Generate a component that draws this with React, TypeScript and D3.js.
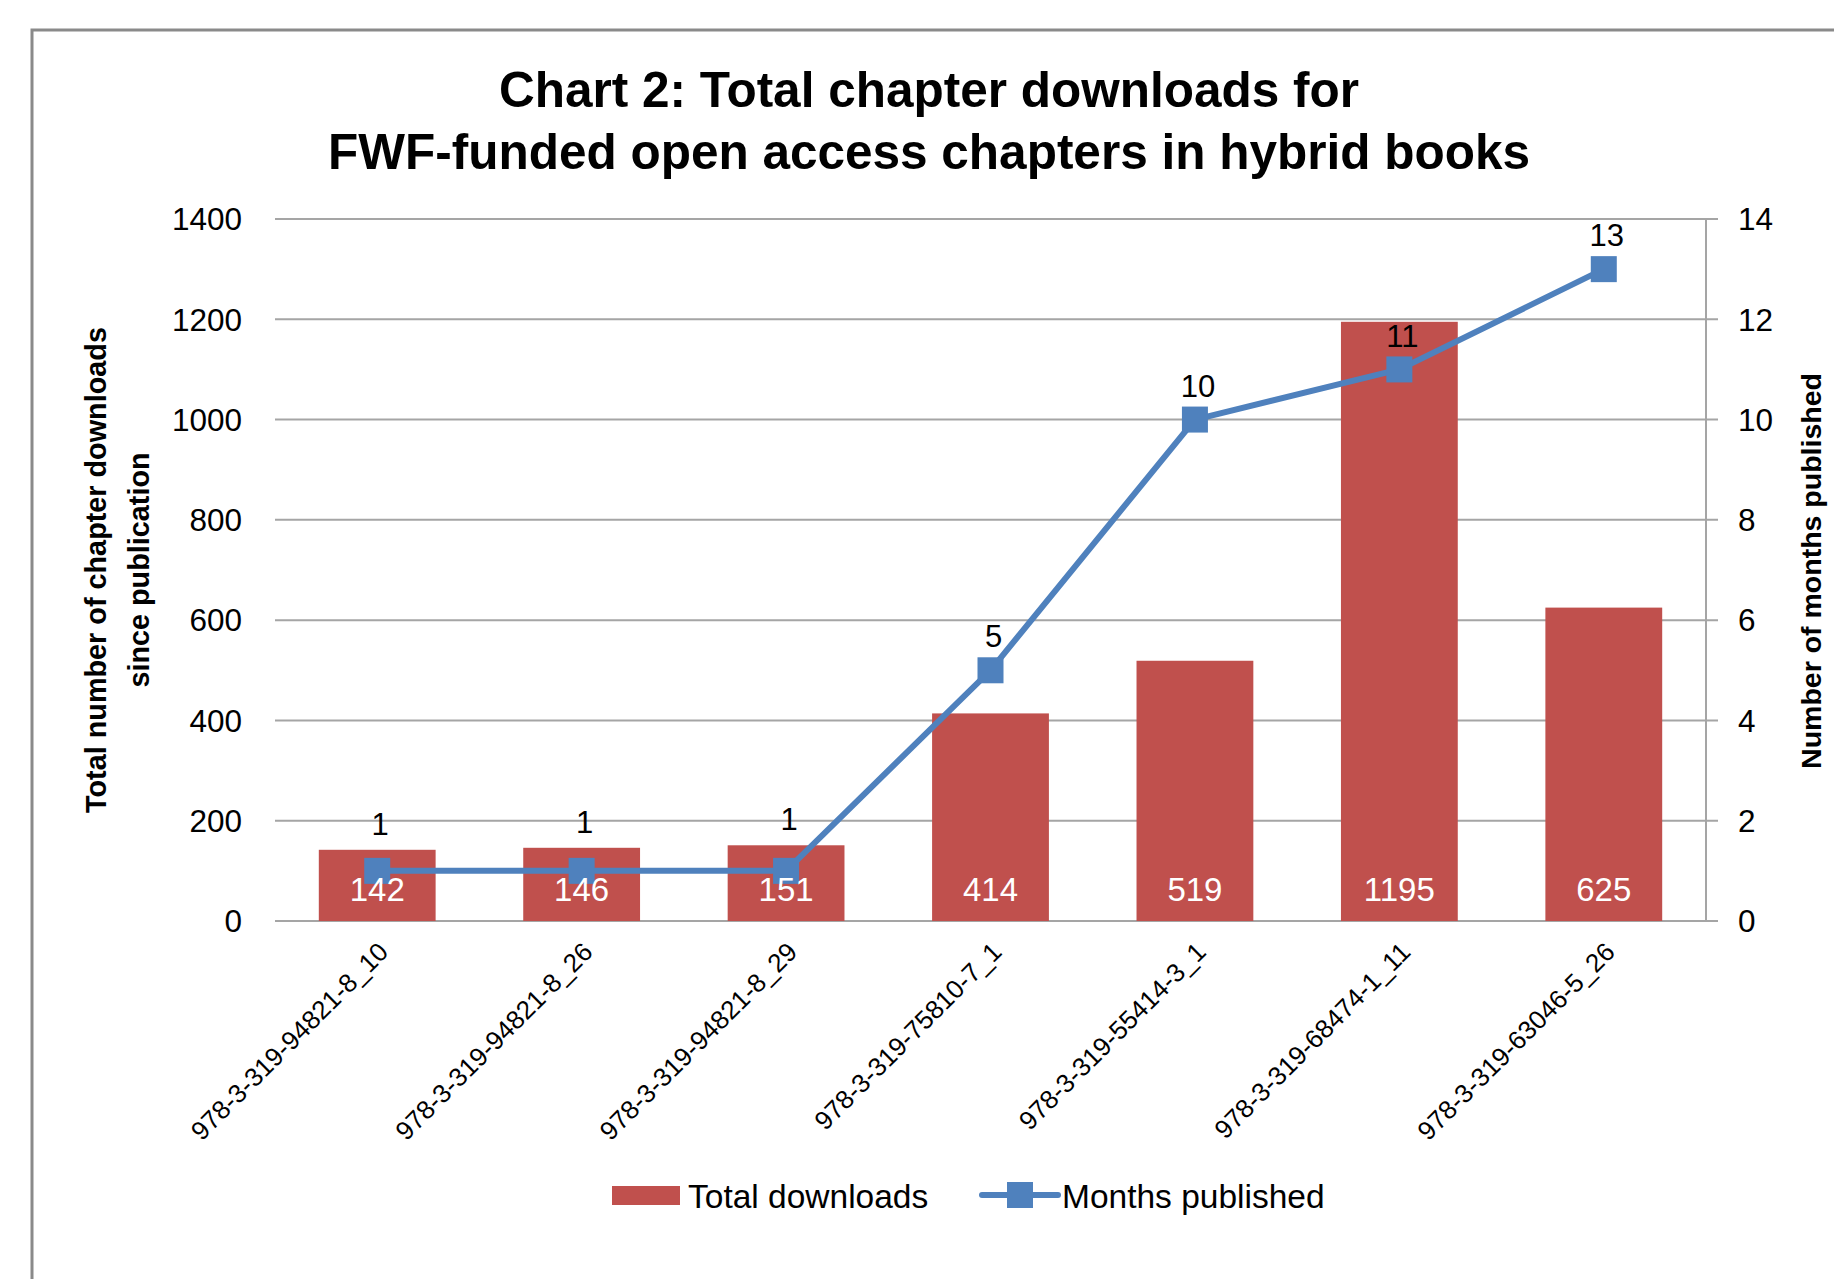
import React from 'react';
import * as d3 from 'd3';

// chart values
const categories = [
  '978-3-319-94821-8_10',
  '978-3-319-94821-8_26',
  '978-3-319-94821-8_29',
  '978-3-319-75810-7_1',
  '978-3-319-55414-3_1',
  '978-3-319-68474-1_11',
  '978-3-319-63046-5_26',
];
const totalDownloads = [142, 146, 151, 414, 519, 1195, 625];
const monthsPublished = [1, 1, 1, 5, 10, 11, 13];
const leftTicks = [0, 200, 400, 600, 800, 1000, 1200, 1400];
const rightTicks = [0, 2, 4, 6, 8, 10, 12, 14];

const W = 1834;
const H = 1279;
const plot = { left: 275, right: 1706, top: 219, bottom: 921 };

const barColor = '#C0504D';
const lineColor = '#4F81BD';
const gridColor = '#A5A5A5';
const font = '"Liberation Sans", Arial, sans-serif';

const App = () => {
  const x = d3.scaleBand<string>()
    .domain(categories)
    .range([plot.left, plot.right]);
  const yLeft = d3.scaleLinear().domain([0, 1400]).range([plot.bottom, plot.top]);
  const yRight = d3.scaleLinear().domain([0, 14]).range([plot.bottom, plot.top]);

  const barW = x.bandwidth() / 1.75;
  const cx = (c: string) => (x(c) as number) + x.bandwidth() / 2;

  const line = d3.line<number>()
    .x((_, i) => cx(categories[i]))
    .y(d => yRight(d));

  const marker = 26;

  // label above the marker; if the bar top sits just over the marker, lift it above the bar
  const labelY = (i: number) => {
    const py = yRight(monthsPublished[i]);
    const top = yLeft(totalDownloads[i]);
    if (top < py && py - top < 30) return top - 26;
    return py - 34;
  };

  return (
    <svg width={W} height={H} style={{ display: 'block', position: 'absolute', left: 0, top: 0 }}
      fontFamily={font}>
      <rect x={0} y={0} width={W} height={H} fill="#fff" />
      {/* frame of the original chart, cropped at right and bottom */}
      <rect x={32} y={30} width={W + 100} height={H + 100} fill="none" stroke="#8a8a8a" strokeWidth={3} />

      {/* title */}
      <text x={929} y={107} textAnchor="middle" fontSize={49.5} fontWeight="bold" fill="#000">
        Chart 2: Total chapter downloads for
      </text>
      <text x={929} y={169} textAnchor="middle" fontSize={49.5} fontWeight="bold" fill="#000">
        FWF-funded open access chapters in hybrid books
      </text>

      {/* gridlines */}
      {leftTicks.map(t => (
        <line key={t} x1={plot.left} x2={plot.right + 12} y1={yLeft(t)} y2={yLeft(t)}
          stroke={gridColor} strokeWidth={2} />
      ))}
      {/* right axis line */}
      <line x1={plot.right} x2={plot.right} y1={plot.top} y2={plot.bottom} stroke={gridColor} strokeWidth={2} />

      {/* left tick labels */}
      {leftTicks.map(t => (
        <text key={t} x={242} y={yLeft(t)} dy="0.36em" textAnchor="end" fontSize={31.5} fill="#000">{t}</text>
      ))}
      {/* right tick labels */}
      {rightTicks.map(t => (
        <text key={t} x={1738} y={yRight(t)} dy="0.36em" textAnchor="start" fontSize={31.5} fill="#000">{t}</text>
      ))}

      {/* axis titles */}
      <g transform="translate(96,570) rotate(-90)">
        <text x={0} y={0} dy="0.36em" textAnchor="middle" fontSize={28.8} fontWeight="bold">
          Total number of chapter downloads
        </text>
        <text x={0} y={43} dy="0.36em" textAnchor="middle" fontSize={28.8} fontWeight="bold">
          since publication
        </text>
      </g>
      <text transform="translate(1811,571) rotate(-90)" dy="0.36em" textAnchor="middle"
        fontSize={28.5} fontWeight="bold">
        Number of months published
      </text>

      {/* bars */}
      {categories.map((c, i) => (
        <rect key={c} x={cx(c) - barW / 2} y={yLeft(totalDownloads[i])} width={barW}
          height={plot.bottom - yLeft(totalDownloads[i])} fill={barColor} />
      ))}

      {/* line + markers */}
      <path d={line(monthsPublished) || ''} fill="none" stroke={lineColor} strokeWidth={6} strokeLinejoin="round" />
      {categories.map((c, i) => (
        <rect key={c} x={cx(c) - marker / 2} y={yRight(monthsPublished[i]) - marker / 2}
          width={marker} height={marker} fill={lineColor} />
      ))}

      {/* bar value labels */}
      {categories.map((c, i) => (
        <text key={c} x={cx(c)} y={889} dy="0.36em" textAnchor="middle" fontSize={33} fill="#fff">
          {totalDownloads[i]}
        </text>
      ))}
      {/* line value labels */}
      {categories.map((c, i) => (
        <text key={c} x={cx(c) + 3} y={labelY(i)} dy="0.36em" textAnchor="middle"
          fontSize={31} fill="#000">
          {monthsPublished[i]}
        </text>
      ))}

      {/* category labels */}
      {categories.map(c => (
        <text key={c} transform={`translate(${cx(c) + 6},${947}) rotate(-45)`} textAnchor="end"
          dy="0.36em" fontSize={26} fill="#000">
          {c}
        </text>
      ))}

      {/* legend */}
      <rect x={612} y={1186} width={68} height={19} fill={barColor} />
      <text x={688} y={1196} dy="0.36em" fontSize={33.5} fill="#000">Total downloads</text>
      <line x1={982} x2={1058} y1={1195} y2={1195} stroke={lineColor} strokeWidth={6} strokeLinecap="round" />
      <rect x={1007} y={1182} width={26} height={26} fill={lineColor} />
      <text x={1062} y={1196} dy="0.36em" fontSize={33.5} fill="#000">Months published</text>
    </svg>
  );
};

export default App;
